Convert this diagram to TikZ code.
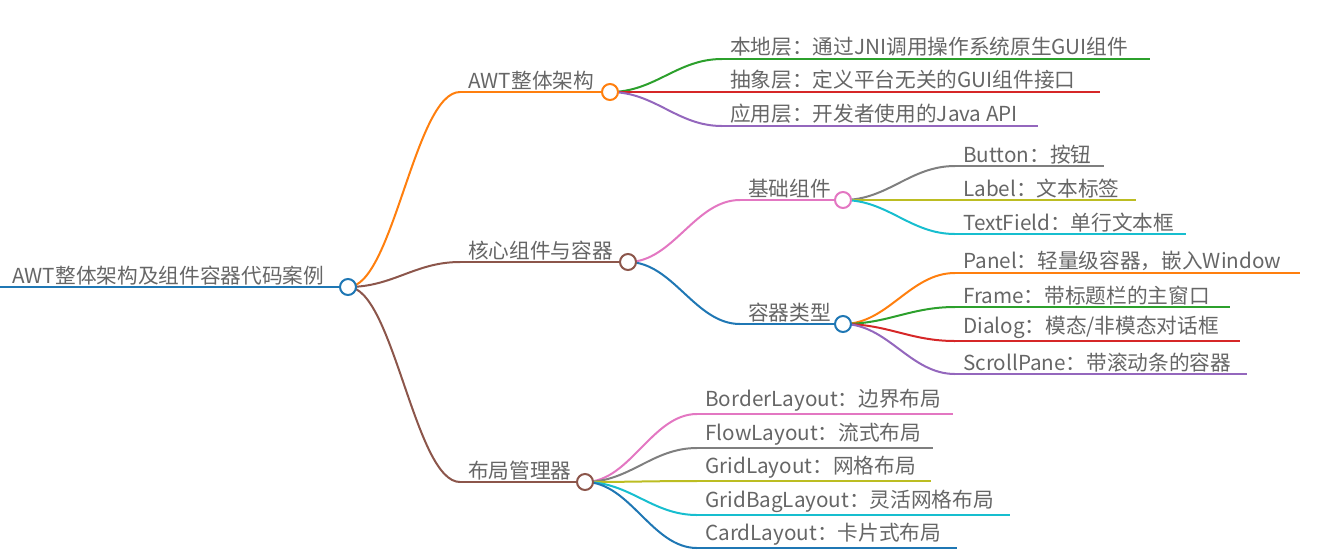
\documentclass[tikz,border=0pt]{standalone}
\usepackage{fontspec}
\setmainfont{Noto Sans CJK SC}
\definecolor{cO}{HTML}{FF7F0E}\definecolor{cG}{HTML}{2CA02C}\definecolor{cR}{HTML}{D62728}
\definecolor{cP}{HTML}{9467BD}\definecolor{cBr}{HTML}{8C564B}\definecolor{cPk}{HTML}{E377C2}
\definecolor{cGy}{HTML}{7F7F7F}\definecolor{cOl}{HTML}{BCBD22}\definecolor{cC}{HTML}{17BECF}
\definecolor{cB}{HTML}{1F77B4}\definecolor{txt}{HTML}{666666}
\tikzset{lbl/.style={anchor=south west,inner sep=1.5pt,text=txt,font=\fontsize{15.5}{17}\selectfont},
 ln/.style={line width=1.5pt},
 knob/.style={circle,draw,fill=white,line width=1.5pt,minimum size=12pt,inner sep=0pt}}
\newcommand\leaf[6]{\coordinate (#1s) at (#2,#4);\coordinate (#1e) at (#3,#4);
 \draw[#5,ln] (#1s)--(#1e);\node[lbl] (#1) at (#2+6,#4) {#6};}
\newcommand\conn[3]{\draw[#3,ln] (#1) .. controls +(45,0) and +(-45,0) .. (#2);}
\begin{document}
\begin{tikzpicture}[x=0.75pt,y=-0.75pt]
\useasboundingbox (0,0) rectangle (1326,558);
% root
\leaf{r}{4}{348}{287}{cB}{AWT整体架构及组件容器代码案例}
\draw[cB,ln] (0,287)--(rs);
% branch level
\leaf{a}{460}{610}{92}{cO}{AWT整体架构}
\leaf{b}{460}{628}{262}{cBr}{核心组件与容器}
\leaf{c}{460}{585}{482}{cBr}{布局管理器}
\leaf{b1}{740}{843}{200}{cPk}{基础组件}
\leaf{b2}{740}{843}{324}{cB}{容器类型}
% leaves
\leaf{a1}{722}{1150}{59}{cG}{本地层：通过JNI调用操作系统原生GUI组件}
\leaf{a2}{722}{1100}{92}{cR}{抽象层：定义平台无关的GUI组件接口}
\leaf{a3}{722}{1038}{126}{cP}{应用层：开发者使用的Java API}
\leaf{p1}{955}{1104}{166}{cGy}{Button：按钮}
\leaf{p2}{955}{1136}{200}{cOl}{Label：文本标签}
\leaf{p3}{955}{1186}{234}{cC}{TextField：单行文本框}
\leaf{q1}{955}{1300}{273}{cO}{Panel：轻量级容器，嵌入Window}
\leaf{q2}{955}{1230}{307}{cG}{Frame：带标题栏的主窗口}
\leaf{q3}{955}{1240}{341}{cR}{Dialog：模态/非模态对话框}
\leaf{q4}{955}{1247}{374}{cP}{ScrollPane：带滚动条的容器}
\leaf{c1}{697}{953}{414}{cPk}{BorderLayout：边界布局}
\leaf{c2}{697}{933}{448}{cGy}{FlowLayout：流式布局}
\leaf{c3}{697}{931}{481}{cOl}{GridLayout：网格布局}
\leaf{c4}{697}{1010}{515}{cC}{GridBagLayout：灵活网格布局}
\leaf{c5}{697}{957}{548}{cB}{CardLayout：卡片式布局}
% connectors
\conn{re}{as}{cO}\conn{re}{bs}{cBr}\conn{re}{cs}{cBr}
\conn{ae}{a1s}{cG}\conn{ae}{a2s}{cR}\conn{ae}{a3s}{cP}
\conn{be}{b1s}{cPk}\conn{be}{b2s}{cB}
\conn{b1e}{p1s}{cGy}\conn{b1e}{p2s}{cOl}\conn{b1e}{p3s}{cC}
\conn{b2e}{q1s}{cO}\conn{b2e}{q2s}{cG}\conn{b2e}{q3s}{cR}\conn{b2e}{q4s}{cP}
\conn{ce}{c1s}{cPk}\conn{ce}{c2s}{cGy}\conn{ce}{c3s}{cOl}\conn{ce}{c4s}{cC}\conn{ce}{c5s}{cB}
% knobs
\node[knob,draw=cB] at (re) {};
\node[knob,draw=cO] at (ae) {};
\node[knob,draw=cBr] at (be) {};
\node[knob,draw=cBr] at (ce) {};
\node[knob,draw=cPk] at (b1e) {};
\node[knob,draw=cB] at (b2e) {};
\end{tikzpicture}
\end{document}
